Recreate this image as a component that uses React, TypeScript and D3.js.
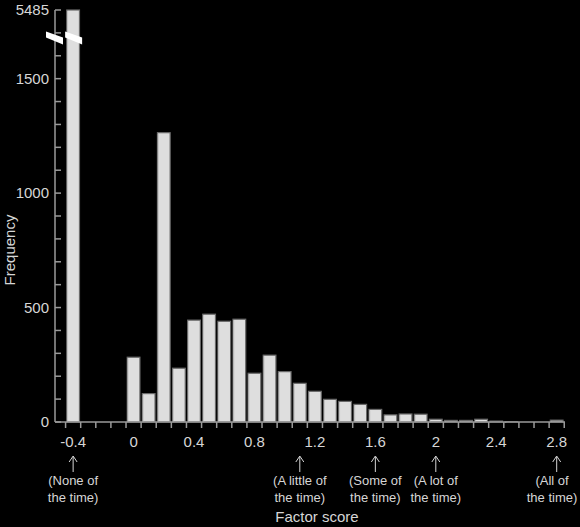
import { scaleLinear } from "d3";

// histogram bins (centre of each 0.1 wide bin) and counts
const binCenters = [
  -0.4, -0.3, -0.2, -0.1, 0, 0.1, 0.2, 0.3, 0.4, 0.5, 0.6, 0.7, 0.8, 0.9, 1.0, 1.1, 1.2,
  1.3, 1.4, 1.5, 1.6, 1.7, 1.8, 1.9, 2.0, 2.1, 2.2, 2.3, 2.4, 2.5, 2.6, 2.7, 2.8,
];
const frequencies = [
  5485, 0, 0, 0, 283, 124, 1264, 235, 445, 471, 440, 449, 213, 292, 220, 169, 134,
  99, 90, 77, 55, 31, 35, 34, 12, 7, 7, 12, 4, 1, 0, 0, 8,
];

const xTickValues = [-0.4, 0, 0.4, 0.8, 1.2, 1.6, 2, 2.4, 2.8];
const xTickLabels = ["-0.4", "0", "0.4", "0.8", "1.2", "1.6", "2", "2.4", "2.8"];

const yLabelValues = [0, 500, 1000, 1500, 1800];
const yLabelTexts = ["0", "500", "1000", "1500", "5485"];
const yBreakValue = 1800; // top of axis stands for the broken value

const annotationAt = [-0.4, 1.1, 1.6, 2.0, 2.8];
const annotationLines = [
  ["(None of", "the time)"],
  ["(A little of", "the time)"],
  ["(Some of", "the time)"],
  ["(A lot of", "the time)"],
  ["(All of", "the time)"],
];

const W = 580;
const H = 527;
const FONT = "'Liberation Sans', Arial, sans-serif";
const TEXT = "#d6d6d6";
const AXIS = "#9a9a9a";

export default function App() {
  const x = scaleLinear().domain([-0.52, 2.855]).range([55, 565]);
  const y = scaleLinear().domain([0, yBreakValue]).range([422, 10]);
  const binW = x(0.1) - x(0);
  const barW = binW * 0.84;

  const edges = binCenters.map((c) => c - 0.05).concat([binCenters[binCenters.length - 1] + 0.05]);
  const minorY: number[] = [];
  for (let v = 0; v <= yBreakValue; v += 100) minorY.push(v);

  const [x0, x1] = x.range();
  const breakY = y(1680);

  return (
    <div style={{ position: "absolute", left: 0, top: 0, width: W, height: H, background: "#000" }}>
      <svg width={W} height={H} style={{ display: "block" }} fontFamily={FONT}>
        <rect width={W} height={H} fill="#000" />

        {/* bars */}
        {frequencies.map((f, i) => {
          if (f <= 0) return null;
          const top = y(Math.min(f, yBreakValue));
          const left = x(binCenters[i]) - barW / 2;
          return (
            <g key={i}>
              <rect x={left} y={top} width={barW} height={y(0) - top} fill="#dedede" stroke="#6a6a6a" strokeWidth={1.2} />
              <line x1={left + 0.8} x2={left + 0.8} y1={top + 1} y2={y(0)} stroke="#c4c4c4" strokeWidth={1} />
            </g>
          );
        })}

        {/* y axis */}
        <line x1={x0} x2={x0} y1={y(0)} y2={y(yBreakValue)} stroke={AXIS} strokeWidth={1.5} />
        {minorY.map((v) => (
          <line key={v} x1={x0} x2={x0 + 6} y1={y(v)} y2={y(v)} stroke={AXIS} strokeWidth={1.5} />
        ))}
        {yLabelValues.map((v, i) => (
          <text key={v} x={x0 - 6} y={y(v)} dy="0.35em" textAnchor="end" fontSize={15} fill={TEXT}>
            {yLabelTexts[i]}
          </text>
        ))}

        {/* axis break marks */}
        {[x0 - 9, x(binCenters[0]) - 8].map((bx, i) => (
          <polygon
            key={i}
            points={`${bx},${breakY - 6} ${bx + 17},${breakY} ${bx + 17},${breakY + 7} ${bx},${breakY}`}
            fill="#fff"
          />
        ))}

        {/* x axis */}
        <line x1={x0} x2={x1} y1={y(0)} y2={y(0)} stroke={AXIS} strokeWidth={1.5} />
        {edges.map((e, i) => (
          <line key={i} x1={x(e)} x2={x(e)} y1={y(0)} y2={y(0) + 6} stroke={AXIS} strokeWidth={1.5} />
        ))}
        {xTickValues.map((v, i) => (
          <text key={v} x={x(v)} y={447} textAnchor="middle" fontSize={15} fill={TEXT}>
            {xTickLabels[i]}
          </text>
        ))}

        {/* verbal anchors */}
        {annotationAt.map((v, i) => {
          const ax = x(v);
          const tx = Math.min(ax, W - 28);
          return (
            <g key={v}>
              <path
                d={`M${ax},472 L${ax},457 M${ax - 4},462 L${ax},456 L${ax + 4},462`}
                fill="none"
                stroke={TEXT}
                strokeWidth={1}
              />
              {annotationLines[i].map((t, j) => (
                <text key={j} x={tx} y={485 + j * 17} textAnchor="middle" fontSize={13} fill={TEXT}>
                  {t}
                </text>
              ))}
            </g>
          );
        })}

        {/* axis titles */}
        <text x={317} y={522} textAnchor="middle" fontSize={15} fill={TEXT}>
          Factor score
        </text>
        <text
          transform={`translate(15,${(y(0) + y(yBreakValue)) / 2 + 34}) rotate(-90)`}
          textAnchor="middle"
          fontSize={15}
          fill={TEXT}
        >
          Frequency
        </text>
      </svg>
    </div>
  );
}
